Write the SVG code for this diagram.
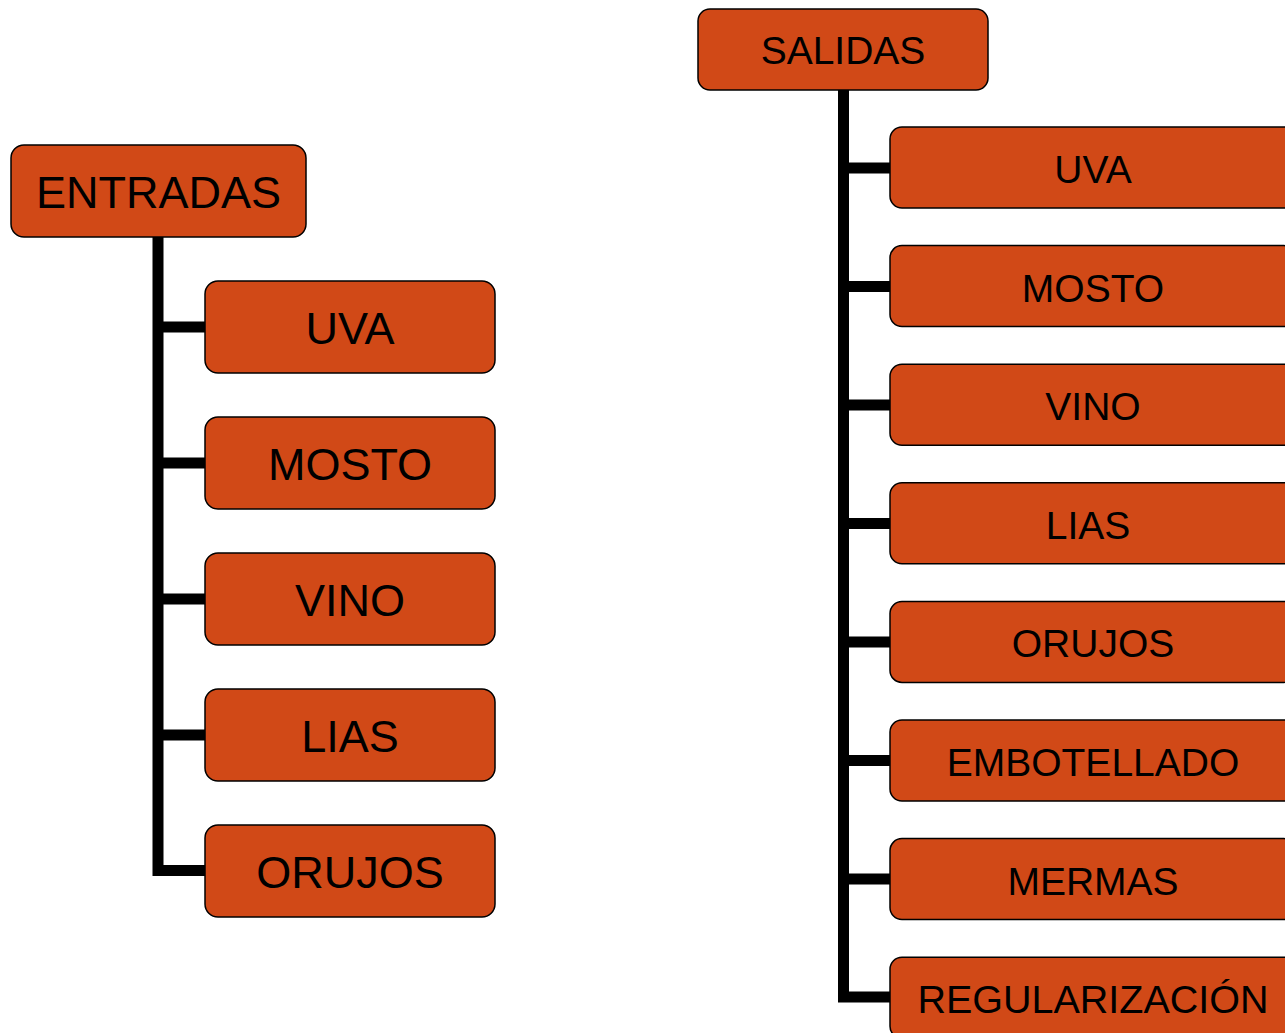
<svg xmlns="http://www.w3.org/2000/svg" width="1285" height="1033" viewBox="0 0 1285 1033">
<style>
.box{fill:#D14917;stroke:#000;stroke-width:1.5}
.t{font-family:"Liberation Sans",Arial,sans-serif;fill:#000;text-anchor:middle}
.l{font-size:45px}
.r{font-size:39px}
.c{fill:none;stroke:#000;stroke-width:11;stroke-linejoin:miter}
</style>
<rect width="1285" height="1033" fill="#fff"/>
<g id="connectors">
<path class="c" d="M158 237 V870.5 H206"/>
<path class="c" d="M158 327 H206 M158 463 H206 M158 599 H206 M158 735 H206"/>
<path class="c" d="M843.5 90 V997 H891"/>
<path class="c" d="M843.5 168 H891 M843.5 286.5 H891 M843.5 405 H891 M843.5 523.5 H891 M843.5 642 H891 M843.5 760.5 H891 M843.5 879 H891"/>
</g>
<g id="entradas"><rect class="box" x="11" y="145" width="295" height="92" rx="13"/><text class="t l" x="158.5" y="208">ENTRADAS</text></g>
<g id="e-uva"><rect class="box" x="205" y="281" width="290" height="92" rx="13"/><text class="t l" x="350" y="344">UVA</text></g>
<g id="e-mosto"><rect class="box" x="205" y="417" width="290" height="92" rx="13"/><text class="t l" x="350" y="480">MOSTO</text></g>
<g id="e-vino"><rect class="box" x="205" y="553" width="290" height="92" rx="13"/><text class="t l" x="350" y="616">VINO</text></g>
<g id="e-lias"><rect class="box" x="205" y="689" width="290" height="92" rx="13"/><text class="t l" x="350" y="752">LIAS</text></g>
<g id="e-orujos"><rect class="box" x="205" y="825" width="290" height="92" rx="13"/><text class="t l" x="350" y="888">ORUJOS</text></g>
<g id="salidas"><rect class="box" x="698" y="9" width="290" height="81" rx="12"/><text class="t r" x="843" y="64">SALIDAS</text></g>
<g id="s-uva"><rect class="box" x="890" y="127" width="406" height="81" rx="12"/><text class="t r" x="1093" y="183">UVA</text></g>
<g id="s-mosto"><rect class="box" x="890" y="245.6" width="406" height="81" rx="12"/><text class="t r" x="1093" y="301.6">MOSTO</text></g>
<g id="s-vino"><rect class="box" x="890" y="364.2" width="406" height="81" rx="12"/><text class="t r" x="1093" y="420.2">VINO</text></g>
<g id="s-lias"><rect class="box" x="890" y="482.8" width="406" height="81" rx="12"/><text class="t r" x="1088" y="538.8">LIAS</text></g>
<g id="s-orujos"><rect class="box" x="890" y="601.4" width="406" height="81" rx="12"/><text class="t r" x="1093" y="657.4">ORUJOS</text></g>
<g id="s-embotellado"><rect class="box" x="890" y="720" width="406" height="81" rx="12"/><text class="t r" x="1093" y="776">EMBOTELLADO</text></g>
<g id="s-mermas"><rect class="box" x="890" y="838.6" width="406" height="81" rx="12"/><text class="t r" x="1093" y="894.6">MERMAS</text></g>
<g id="s-regularizacion"><rect class="box" x="890" y="957.2" width="406" height="81" rx="12"/><text class="t r" x="1093" y="1013" textLength="351" lengthAdjust="spacingAndGlyphs">REGULARIZACIÓN</text></g>
</svg>
